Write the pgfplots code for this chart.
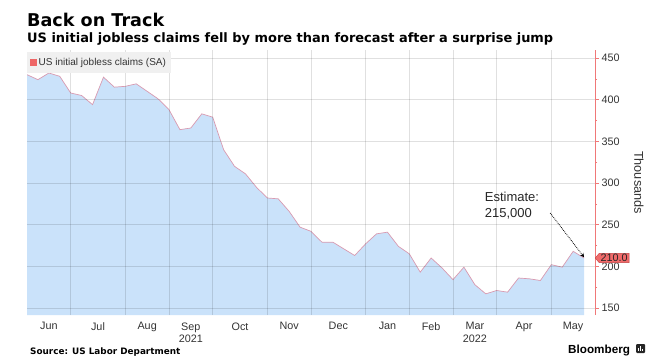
\documentclass[border=0pt]{standalone}
\usepackage{graphicx}
\usepackage{fontspec}
\setmainfont{Liberation Sans}
\newfontfamily\dejavu{DejaVu Sans}
\usepackage{pgfplots}
\pgfplotsset{compat=1.18}
\usepackage{pgfplotstable}
\usetikzlibrary{shapes.symbols,arrows.meta}
\definecolor{areablue}{HTML}{CAE2FA}
\definecolor{linepink}{HTML}{D99AB0}
\definecolor{axisred}{HTML}{F07878}
\definecolor{legred}{HTML}{EE6666}
\definecolor{tagred}{HTML}{F06A6A}
\definecolor{tagborder}{HTML}{C04040}
\definecolor{labelgray}{HTML}{333333}
\pgfplotstableread{
i v
0 430
1 424
2 432
3 428
4 408
5 405
6 394
7 427
8 415
9 416
10 419
11 410
12 401
13 388
14 364
15 366
16 383
17 379
18 340
19 320
20 311
21 295
22 282
23 281
24 266
25 247
26 242
27 229
28 229
29 221
30 213
31 227
32 239
33 241
34 224
35 215
36 193
37 210
38 198
39 184
40 199
41 178
42 167
43 171
44 169
45 186
46 185
47 183
48 202
49 199
50 218
51 210
}\claims
\begin{document}
\begin{tikzpicture}
\path[use as bounding box] (0,0) rectangle (662pt,362pt);
\node[anchor=base west, inner sep=0] at (27pt,335pt) {\resizebox{137pt}{!}{\dejavu\bfseries\fontsize{17}{20}\selectfont Back on Track}};
\node[anchor=base west, inner sep=0] at (27pt,319pt) {\resizebox{526pt}{!}{\dejavu\bfseries\fontsize{12.5}{15}\selectfont US initial jobless claims fell by more than forecast after a surprise jump}};
\begin{axis}[
  at={(27pt,47pt)}, anchor=south west,
  scale only axis, width=568pt, height=265pt,
  xmin=0, xmax=52, ymin=141.6, ymax=459.6,
  axis x line*=bottom, axis y line*=right,
  x axis line style={draw=none},
  y axis line style={draw=axisred, line width=0.8pt},
  xtick={2,6.5,11,15,19.5,24,28.5,33,37,41,45.5,50},
  xticklabels={Jun,Jul,Aug,{Sep\\2021},Oct,Nov,Dec,Jan,Feb,{Mar\\2022},Apr,May},
  xticklabel style={align=center, font=\fontsize{10.8}{12.5}\selectfont, text=labelgray},
  major x tick style={draw=none},
  minor xtick={4,9,13,17,22,26,31,35,39,43,48},
  minor x tick style={draw=none},
  xminorgrids=true,
  ytick={150,200,250,300,350,400,450},
  minor ytick={175,225,275,325,375,425},
  ymajorgrids=true,
  y tick style={draw=axisred, line width=0.6pt},
  tick align=outside,
  major tick length=4pt, minor tick length=2pt,
  grid style={black, opacity=0.12, line width=0.7pt},
  yticklabel style={font=\fontsize{10.8}{12.5}\selectfont, text=labelgray, xshift=-1pt},
  /pgf/number format/assume math mode=true,
  axis on top,
  legend style={at={(0,1)}, yshift=-2pt, anchor=north west, fill=black!6, draw=none,
    font=\fontsize{10}{12}\selectfont, text=labelgray, inner xsep=3pt, inner ysep=4pt},
  legend cell align=left,
  legend image code/.code={\fill[legred] (0pt,-3.2pt) rectangle (6.5pt,3.2pt);},
]
\addplot[fill=areablue, draw=none] table[x=i, y=v] {\claims} \closedcycle;
\addlegendentry{US initial jobless claims (SA)}
\addplot[draw=linepink, line width=0.7pt, forget plot] table[x=i, y=v] {\claims};
\node[anchor=north west, inner sep=0, align=left, font=\fontsize{13}{16}\selectfont, text=black!85] at (axis cs:41.9,289) {Estimate:\\215,000};
\draw[densely dotted, line width=0.8pt, -{Stealth[length=4pt,width=4pt]}] (axis cs:47.9,264) -- (axis cs:51,211);
\coordinate (tagpt) at (axis cs:52,210);
\coordinate (midright) at (rel axis cs:1,0.5);
\end{axis}
\node[signal, signal to=west, signal pointer angle=100, fill=tagred, draw=tagborder, line width=0.4pt, inner xsep=1.5pt, inner ysep=0.8pt, anchor=west, font=\fontsize{10.8}{12}\selectfont, text=black!85] at (tagpt) {210.0};
\node[rotate=-90, font=\fontsize{12.7}{14}\selectfont, text=labelgray] at ([xshift=44pt]midright) {Thousands};
\node[anchor=base west, inner sep=0, font=\dejavu\bfseries\fontsize{8.85}{10}\selectfont] at (30pt,8pt) {Source: US Labor Department};
\node[anchor=base west, inner sep=0, font=\bfseries\fontsize{11.7}{13}\selectfont] at (568pt,9pt) {Bloomberg};
\fill[black!85, rounded corners=1pt] (636pt,9pt) rectangle (645pt,18pt);
\fill[white] (638pt,11pt) rectangle (639pt,14pt);
\fill[white] (640pt,11pt) rectangle (641pt,16pt);
\fill[white] (642pt,11pt) rectangle (643pt,13pt);
\end{tikzpicture}
\end{document}
